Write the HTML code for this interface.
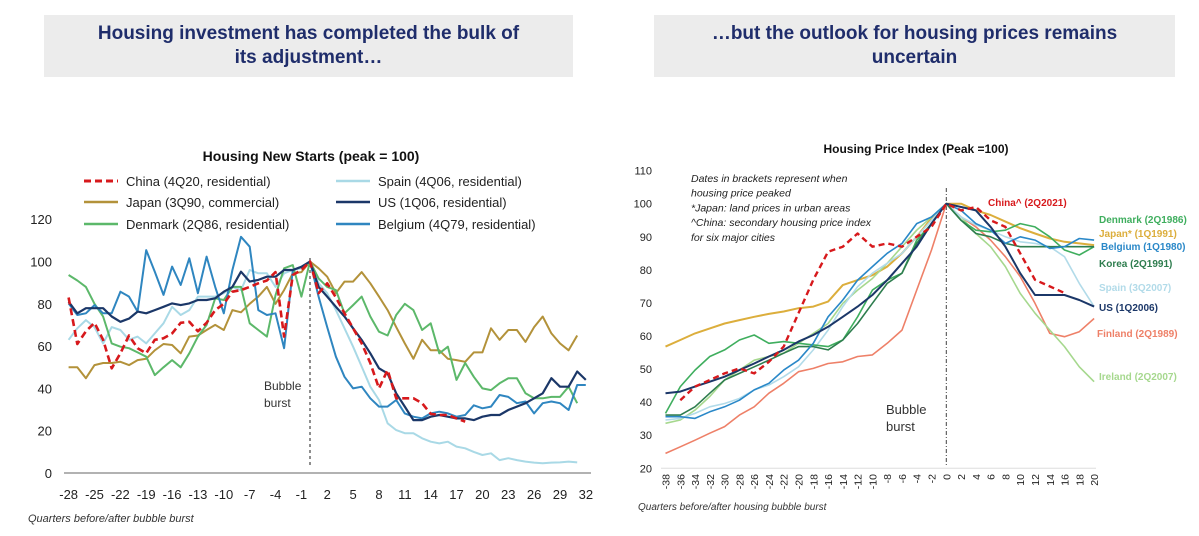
<!DOCTYPE html>
<html><head><meta charset="utf-8"><style>
body{margin:0;width:1199px;height:536px;background:#fff;overflow:hidden;position:relative;font-family:"Liberation Sans",sans-serif}
.hdr{position:absolute;top:15px;height:62px;background:#ececec;color:#1f2d6b;font-weight:bold;font-size:19px;line-height:24px;text-align:center;display:flex;align-items:center;justify-content:center}
svg{position:absolute;left:0;top:0}
</style></head><body>
<div class="hdr" style="left:44px;width:529px">Housing investment has completed the bulk of<br>its adjustment…</div>
<div class="hdr" style="left:654px;width:521px">…but the outlook for housing prices remains<br>uncertain</div>
<svg id="c" width="1199" height="536"></svg>
<script>
// ---------- Left chart data ----------
const lQuarters=[];for(let q=-28;q<=32;q++)lQuarters.push(q);
const lTicksY=[0,20,40,60,80,100,120];
const lTicksX=[-28,-25,-22,-19,-16,-13,-10,-7,-4,-1,2,5,8,11,14,17,20,23,26,29,32];
const chinaL=[83,61,67,71,63,49.5,56.6,65,59,56.6,63,63.7,66,71,71.5,67,71,77,80,85.7,86.5,88,89.7,91,95,64.5,93.6,96,100,85,89.7,83,75.5,68.4,61.3,52,40,48.7,35.3,35.3,35.3,33,28,27.4,27.4,25.8,24.3];
const japanL=[50,50,44.8,51,52,52,52.6,51,53.4,54,58,61,60.5,56.6,64.5,65,67.6,70,67.6,77,76,80,83.4,88,80,86.5,94.4,95,100,96.8,92.8,85,90.5,90.5,95,89.7,83.4,77,69,61.3,54,63,58,58,54,53.4,52.6,57,57,68.4,63,67.6,67.6,62,69,74,66,61.3,58,65];
const denmarkL=[93.6,91,88,80,74,61.3,59.7,59,57,55,46.3,50,53.4,50,56.6,64.5,70,82.6,81.8,88,88,70.8,67.6,64.5,84,96.8,98.3,83.4,100,92,88,86.5,75.5,79.4,83.4,74,66.8,65,74.7,80,77,67.6,70.8,56.6,59.7,44,52,45.5,40,39.2,42.4,44.8,44.8,37.7,35.3,35.3,36,36,40.8,33];
const spainL=[63,68.4,72.3,69,61.3,69,67.6,63,64.5,61.3,66,70.8,78.6,74.7,77,83.4,83.4,83.4,85,88,86.5,96,94.4,94.4,88,94.4,96,96.8,100,89.7,85,77,68.4,59.7,50.3,40.8,34.5,23.5,20.3,18.8,18.8,16.4,14.8,14,14.8,12.5,11.7,10,8.5,9.3,6.1,7,6.1,5.4,4.9,4.6,4.9,5,5.4,5];
const usL=[81,75.5,77.9,77.9,77.9,74,71.5,73,76.3,75.5,77,78.6,80.2,79.4,80.2,81.8,81.8,82.6,85.7,88,95.2,90.5,91.3,92.8,92.8,96,96,97.5,100,88,83.4,78.6,74,68.4,62.9,56.6,49.5,47.1,37.7,31.4,25,25,26.6,27.4,26.6,25.8,25.8,25,26.6,27.4,27.4,29.8,31.4,33,35.3,37.7,44.8,40.8,40.8,48,44];
const belgiumL=[80.2,74.7,75.5,79.4,75.5,75.5,85.7,83.4,76.3,105.4,95.2,84.2,97.6,88.9,101.5,85,102.3,88,75.5,96,111.7,107,77,74.7,75.5,59,96,97.5,100,83.4,69,55,45.5,40,40.8,35.3,31.4,31.4,34.5,28.2,26.6,25.8,28.2,29,28.2,26.6,27.4,32,30.6,31.4,36.9,36,33,33.8,28.2,33,33.8,33,29.8,41.6,41.6];

// ---------- Right chart data ----------
const rQuarters=[];for(let q=-38;q<=20;q+=2)rQuarters.push(q);
const rTicksY=[20,30,40,50,60,70,80,90,100,110];
const japanR=[56.8,58.8,60.8,62.3,63.8,64.8,65.8,66.7,67.4,68.4,68.9,70.4,75.4,76.9,78.4,81,85,90,95.6,100,100,98,96.6,94.6,92.6,91,89.5,88.5,88,87.5];
const chinaR=[null,40.6,44.7,46.7,48.7,50.2,48.7,52.2,56.8,66.9,77,85.5,87,91,87,88,87,90,93,100,98,99,95,93,85,77,75,73,null,null];
const usR=[42.7,43.2,44.7,46.2,47.7,49.7,51.7,53.8,55.8,58.3,60.3,62.8,65.8,68.9,72.4,76.9,82,87,94,100,99,98,93,87,79,72.4,72.4,72.4,70.9,68.9];
const finlandR=[24.5,26.5,28.5,30.6,32.6,36.1,38.6,42.7,45.7,49.2,50.2,51.7,52.2,53.8,54.3,57.8,61.8,73.9,86,100,96,93,89,84,78,69.9,60.8,59.8,61.3,65.3];
const irelandR=[33.6,34.6,37.6,41.7,46.7,49.7,52.7,53.8,54.8,57.8,60.8,63.8,69.9,73.9,77.4,82,87,92,96,100,96,91,87,81,72.9,66.9,61.8,56.8,50.7,46.2];
const spainR=[34.6,35.1,36.6,38.6,39.6,41.1,43.7,45.2,47.7,50.7,55.8,61.8,68.9,74.9,79,82,85,90,95,100,96,93.6,92,90,88.5,88,87,84,75.9,68.9];
const belgiumR=[35.6,35.6,35.1,37.1,38.6,40.6,43.7,45.7,49.7,52.7,57.8,65.8,70.9,76.9,81,85,88,94,96,100,98,94,92,88,90,89,86.5,87,89.5,89];
const denmarkR=[36.6,44.7,49.7,53.8,55.8,58.8,60.3,57.8,58.3,57.8,57.3,56.8,58.8,65.8,73.9,76.9,79,89,94,100,95,92,91.5,92,94,93,90,86,84.5,87];
const koreaR=[36.1,36.1,38.6,42.7,46.7,48.7,50.7,52.7,54.8,56.8,56.8,55.8,58.8,63.8,69.9,75.9,79,88,94,100,95,91,90,88,87,87,87,87,87,87];

const NS='http://www.w3.org/2000/svg';
const svg=document.getElementById('c');
function mk(tag,attrs,parent){const e=document.createElementNS(NS,tag);for(const k in attrs)e.setAttribute(k,attrs[k]);(parent||svg).appendChild(e);return e;}
function txt(s,attrs){const e=mk('text',attrs);e.textContent=s;return e;}

// Left axes
const lx=q=>310+8.62*q, ly=v=>473-2.115*v;
// Right axes
const rx=q=>946.3+7.39*q, ry=v=>468.3-3.307*(v-20);

function path(xs,vs,fx,fy){let d='',pen=false;vs.forEach((v,i)=>{if(v==null){pen=false;return;}d+=(pen?'L':'M')+fx(xs[i]).toFixed(1)+','+fy(v).toFixed(1);pen=true;});return d;}

// ----- Left chart -----
let t=txt('Housing New Starts (peak = 100)',{x:311,y:161,'text-anchor':'middle','font-size':14,'font-weight':'bold',fill:'#111'});


lTicksY.forEach(v=>{const e=txt(String(v),{x:52,y:ly(v)+5,'text-anchor':'end','font-size':13,fill:'#222'});

});
lTicksX.forEach(q=>{const e=txt(String(q),{x:lx(q),y:499,'text-anchor':'middle','font-size':13,fill:'#222'});

});
let ax=mk('line',{x1:64,x2:591,y1:473,y2:473,stroke:'#999','stroke-width':1.5});


let bl=mk('line',{x1:lx(0),x2:lx(0),y1:258,y2:468,stroke:'#444','stroke-width':1.2,'stroke-dasharray':'3,3'});


t=txt('Bubble',{x:264,y:390,'font-size':12,fill:'#333'});


t=txt('burst',{x:264,y:407,'font-size':12,fill:'#333'});


t=txt('Quarters before/after bubble burst',{x:28,y:522,'font-size':11,'font-style':'italic',fill:'#333'});



const lSeries=[
 ['spain',spainL,'#a9d9e6',2,null],['japan',japanL,'#b3923a',2,null],['denmark',denmarkL,'#5cb86a',2,null],
 ['belgium',belgiumL,'#2f86c0',2,null],['us',usL,'#1b3768',2.2,null],['china',chinaL,'#d7191c',2.6,'7,4']];
lSeries.forEach(s=>{const p=mk('path',{d:path(lQuarters,s[1],lx,ly),fill:'none',stroke:s[2],'stroke-width':s[3],'stroke-linejoin':'round'});
if(s[4])p.setAttribute('stroke-dasharray',s[4]);

});

const legend=[['China (4Q20, residential)','#d7191c','7,4',84,181],['Japan (3Q90, commercial)','#b3923a',null,84,202],['Denmark (2Q86, residential)','#5cb86a',null,84,224],
['Spain (4Q06, residential)','#a9d9e6',null,336,181],['US (1Q06, residential)','#1b3768',null,336,202],['Belgium (4Q79, residential)','#2f86c0',null,336,224]];
legend.forEach(l=>{const g=mk('g',{});


const ln=mk('line',{x1:l[3],x2:l[3]+34,y1:l[4],y2:l[4],stroke:l[1],'stroke-width':l[2]?3:2.5},g);if(l[2])ln.setAttribute('stroke-dasharray',l[2]);
const tt=mk('text',{x:l[3]+42,y:l[4]+5,'font-size':13,fill:'#222'},g);tt.textContent=l[0];});

// ----- Right chart -----
t=txt('Housing Price Index (Peak =100)',{x:916,y:153,'text-anchor':'middle','font-size':12,'font-weight':'bold',fill:'#111'});


rTicksY.forEach(v=>{const e=txt(String(v),{x:652,y:ry(v)+4,'text-anchor':'end','font-size':11,fill:'#222'});

});
rQuarters.forEach(q=>{const e=txt(String(q),{x:0,y:0,'text-anchor':'end','font-size':10.5,fill:'#222',transform:`translate(${rx(q)+4},${474}) rotate(-90)`});

});
ax=mk('line',{x1:661,x2:1096,y1:468.3,y2:468.3,stroke:'#ddd','stroke-width':1});


bl=mk('line',{x1:rx(0),x2:rx(0),y1:188,y2:466,stroke:'#444','stroke-width':1,'stroke-dasharray':'4,2,1,2'});


t=txt('Bubble',{x:886,y:414,'font-size':13,fill:'#333'});


t=txt('burst',{x:886,y:431,'font-size':13,fill:'#333'});


t=txt('Quarters before/after housing bubble burst',{x:638,y:510,'font-size':10,'font-style':'italic',fill:'#333'});


['Dates in brackets represent when','housing price peaked','*Japan: land prices in urban areas','^China: secondary housing price index','for six major cities'].forEach((s,i)=>{
const e=txt(s,{x:691,y:182+i*14.7,'font-size':10.5,'font-style':'italic',fill:'#222'});

});

const rSeries=[['japan',japanR,'#dcae3c',2,null],['finland',finlandR,'#ee8068',1.6,null],['ireland',irelandR,'#a6d88e',1.6,null],['spain',spainR,'#b2dbe9',1.6,null],
['denmark',denmarkR,'#3fae5e',1.6,null],['korea',koreaR,'#2e7d4e',1.6,null],['belgium',belgiumR,'#2a88c8',1.6,null],['us',usR,'#1b3768',2,null],['china',chinaR,'#d7191c',2.4,'6,4']];
rSeries.forEach(s=>{const p=mk('path',{d:path(rQuarters,s[1],rx,ry),fill:'none',stroke:s[2],'stroke-width':s[3],'stroke-linejoin':'round'});
if(s[4])p.setAttribute('stroke-dasharray',s[4]);

});

const rLabels=[['China^ (2Q2021)','#d7191c',988,206],['Denmark (2Q1986)','#3fae5e',1099,223],['Japan* (1Q1991)','#dcae3c',1099,237],['Belgium (1Q1980)','#2a88c8',1101,250],
['Korea (2Q1991)','#2e7d4e',1099,267],['Spain (3Q2007)','#b2dbe9',1099,291],['US (1Q2006)','#1b3768',1099,311],['Finland (2Q1989)','#ee8068',1097,337],['Ireland (2Q2007)','#a6d88e',1099,380]];
rLabels.forEach(l=>{const e=txt(l[0],{x:l[2],y:l[3],'font-size':10,'font-weight':'bold',fill:l[1]});

});
</script>
</body></html>
